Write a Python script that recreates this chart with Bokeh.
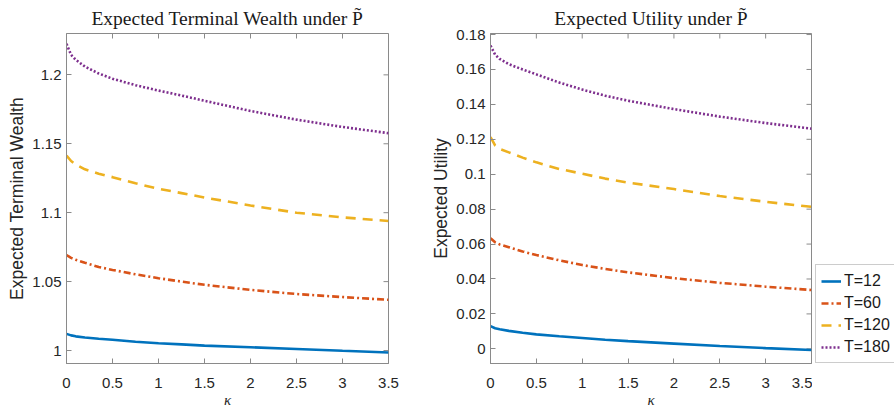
import math
from bokeh.plotting import figure
from bokeh.layouts import row
from bokeh.models import (Range1d, FixedTicker, CustomJSTickFormatter,
                          Legend, LegendItem)
from bokeh.embed import file_html
from bokeh.resources import INLINE

# risk-aversion parameter kappa
kappa = [0, 0.05, 0.1, 0.2, 0.35, 0.5, 0.75, 1, 1.25, 1.5, 2, 2.5, 3, 3.5]

# expected terminal wealth under P~
wealth_T12 = [1.0121, 1.0110, 1.0103, 1.0095, 1.0086, 1.0078, 1.0064, 1.0053, 1.0045, 1.0036, 1.0024, 1.0011, 0.9998, 0.9986]
wealth_T60 = [1.0693, 1.0672, 1.0658, 1.0637, 1.0606, 1.0585, 1.0553, 1.0525, 1.0500, 1.0477, 1.0440, 1.0410, 1.0388, 1.0368]
wealth_T120 = [1.1415, 1.1375, 1.1350, 1.1315, 1.1283, 1.1258, 1.1213, 1.1174, 1.1142, 1.1110, 1.1052, 1.1000, 1.0966, 1.0940]
wealth_T180 = [1.2225, 1.2145, 1.2110, 1.2060, 1.2010, 1.1972, 1.1925, 1.1886, 1.1850, 1.1812, 1.1738, 1.1675, 1.1622, 1.1577]

# expected utility under P~
util_T12 = [0.0130, 0.0118, 0.0112, 0.0103, 0.0092, 0.0083, 0.0072, 0.0062, 0.0052, 0.0044, 0.0030, 0.0016, 0.0004, -0.0007]
util_T60 = [0.0634, 0.0610, 0.0598, 0.0582, 0.0558, 0.0537, 0.0507, 0.0480, 0.0458, 0.0438, 0.0405, 0.0378, 0.0356, 0.0337]
util_T120 = [0.1213, 0.1165, 0.1145, 0.1125, 0.1095, 0.1068, 0.1030, 0.1003, 0.0975, 0.0952, 0.0915, 0.0875, 0.0842, 0.0813]
util_T180 = [0.1737, 0.1685, 0.1660, 0.1630, 0.1600, 0.1572, 0.1525, 0.1485, 0.1450, 0.1421, 0.1373, 0.1330, 0.1293, 0.1261]

labels = ["T=12", "T=60", "T=120", "T=180"]
x_ticks = [0, 0.5, 1, 1.5, 2, 2.5, 3, 3.5]
wealth_ticks = [1, 1.05, 1.1, 1.15, 1.2]
util_ticks = [0, 0.02, 0.04, 0.06, 0.08, 0.1, 0.12, 0.14, 0.16, 0.18]

colors = ["#0072BD", "#D95319", "#EDB120", "#7E2F8E"]
dashes = ["solid", "7 3 2 3", "10 7", "2 2"]
LINE_W = 2.6

TEXT = "#262626"
FRAME = "#8a8a8a"
SANS = "Liberation Sans"
SERIF = "Liberation Serif"

fmt = CustomJSTickFormatter(code="return String(+tick.toFixed(4));")


def make_panel(title, ylabel, yrange, yticks, series, width, left, right):
    p = figure(width=width, height=410, output_backend="svg", toolbar_location=None,
               x_range=Range1d(0, 3.5), y_range=Range1d(*yrange),
               min_border_left=left, min_border_right=right,
               min_border_top=33, min_border_bottom=47)
    p.title.text = title
    p.title.align = "center"
    p.title.text_font = SERIF
    p.title.text_font_size = "19.5px"
    p.title.text_font_style = "normal"
    p.title.text_color = "#1a1a1a"
    p.grid.visible = False
    p.outline_line_color = FRAME
    p.background_fill_color = "white"
    p.border_fill_color = "white"

    p.xaxis.ticker = FixedTicker(ticks=x_ticks)
    p.yaxis.ticker = FixedTicker(ticks=yticks)
    p.xaxis.formatter = fmt
    p.yaxis.formatter = fmt
    p.xaxis.axis_label = "κ"
    p.xaxis.axis_label_text_font = SERIF
    p.xaxis.axis_label_text_font_style = "italic"
    p.xaxis.axis_label_text_font_size = "15px"
    p.xaxis.axis_label_standoff = 1
    p.yaxis.axis_label = ylabel
    p.yaxis.axis_label_text_font = SANS
    p.yaxis.axis_label_text_font_style = "normal"
    p.yaxis.axis_label_text_font_size = "17.5px"
    p.yaxis.axis_label_standoff = 2

    for ax in (p.xaxis[0], p.yaxis[0]):
        ax.axis_line_color = FRAME
        ax.major_tick_line_color = FRAME
        ax.major_tick_in = 5
        ax.major_tick_out = 0
        ax.minor_tick_line_color = None
        ax.major_label_text_font = SANS
        ax.major_label_text_font_size = "15px"
        ax.major_label_text_color = TEXT
        ax.axis_label_text_color = TEXT
    p.xaxis.major_label_standoff = 14
    p.yaxis.major_label_standoff = 5

    # inward tick marks along the top and right edges of the box
    p.scatter(x_ticks, [yrange[1]] * len(x_ticks), marker="dash", size=10,
              angle=math.pi / 2, line_color=FRAME, line_width=1)
    p.scatter([3.5] * len(yticks), yticks, marker="dash", size=10,
              line_color=FRAME, line_width=1)

    for ys, c, d in zip(series, colors, dashes):
        p.line(kappa, ys, line_color=c, line_width=LINE_W, line_dash=d)
    return p


p1 = make_panel("Expected Terminal Wealth under P\u0303", "Expected Terminal Wealth",
                (0.9906, 1.23), wealth_ticks,
                [wealth_T12, wealth_T60, wealth_T120, wealth_T180],
                width=424, left=66, right=36)
p2 = make_panel("Expected Utility under P\u0303", "Expected Utility",
                (-0.0084, 0.1806), util_ticks,
                [util_T12, util_T60, util_T120, util_T180],
                width=388, left=66, right=1)

# narrow strip on the right holding the shared legend; its key lines carry the
# utility series but sit outside the strip's visible x-range
p3 = figure(width=82, height=410, output_backend="svg", toolbar_location=None,
            x_range=Range1d(-2, -1), y_range=Range1d(0, 1),
            min_border_left=0, min_border_right=0, min_border_top=0, min_border_bottom=0)
p3.axis.visible = False
p3.grid.visible = False
p3.outline_line_color = None
keys = [p3.line(kappa, ys, line_color=c, line_width=LINE_W, line_dash=d)
        for ys, c, d in zip([util_T12, util_T60, util_T120, util_T180], colors, dashes)]

legend = Legend(items=[LegendItem(label=l, renderers=[r]) for l, r in zip(labels, keys)],
                location=(3, 0), orientation="vertical",
                label_text_font=SANS, label_text_font_size="16px", label_text_color="#1a1a1a",
                glyph_width=20, glyph_height=20, label_height=21, spacing=1,
                padding=5, margin=0, label_standoff=3,
                border_line_color="#9a9a9a", border_line_width=1,
                background_fill_color="white", background_fill_alpha=1)
p3.add_layout(legend)

layout = row(p1, p2, p3)
open("out.html", "w").write(file_html(layout, INLINE))
